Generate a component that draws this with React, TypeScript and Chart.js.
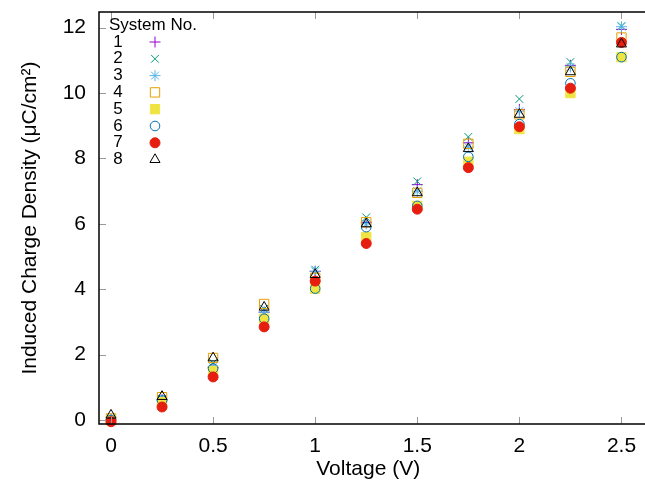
import React, { useEffect, useRef } from "react";
import { Chart, registerables } from "chart.js";
import { drawPoint } from "chart.js/helpers";

Chart.register(...registerables);

const voltages = [0, 0.25, 0.5, 0.75, 1.0, 1.25, 1.5, 1.75, 2.0, 2.25, 2.5];

const sys1 = [0.02, 0.62, 1.6, 3.3, 4.55, 6.05, 7.2, 8.48, 9.5, 10.85, 11.95];
const sys2 = [0.03, 0.65, 1.75, 3.4, 4.6, 6.2, 7.3, 8.66, 9.82, 10.95, 12.05];
const sys3 = [0.02, 0.6, 1.62, 3.3, 4.55, 6.0, 7.0, 8.35, 9.45, 10.8, 12.03];
const sys4 = [0.05, 0.7, 1.9, 3.55, 4.35, 6.05, 6.95, 8.45, 9.35, 10.65, 11.7];
const sys5 = [0.0, 0.55, 1.5, 3.1, 4.02, 5.6, 6.55, 7.9, 8.9, 10.0, 11.1];
const sys6 = [0.0, 0.6, 1.58, 3.1, 4.02, 5.9, 6.55, 8.05, 9.05, 10.3, 11.1];
const sys7 = [-0.05, 0.4, 1.32, 2.85, 4.25, 5.4, 6.45, 7.72, 8.97, 10.15, 11.55];
const sys8 = [0.15, 0.72, 1.9, 3.45, 4.45, 6.0, 6.95, 8.3, 9.35, 10.65, 11.5];

const seriesNames = ["1", "2", "3", "4", "5", "6", "7", "8"];
const seriesValues = [sys1, sys2, sys3, sys4, sys5, sys6, sys7, sys8];
const seriesColors = ["#9400d3", "#009e73", "#56b4e9", "#e69f00", "#f0e442", "#0072b2", "#e51e10", "#000000"];
const seriesStyles = ["cross", "crossRot", "star", "rect", "rect", "circle", "circle", "triangle"];
const seriesFilled = [false, false, false, false, true, false, true, false];
const seriesRadius = [5.5, 5.5, 5.5, 6.6, 6.6, 4.8, 5, 5.8];

const xTicks = [0, 0.5, 1, 1.5, 2, 2.5];
const yTicks = [0, 2, 4, 6, 8, 10, 12];

const legendTitle = "System No.";
const xTitle = "Voltage (V)";
const yTitle = "Induced Charge Density (\u03bcC/cm\u00b2)";

const FONT = "'Liberation Sans', Arial, sans-serif";

export default function App() {
  const ref = useRef<HTMLCanvasElement>(null);
  useEffect(() => {
    document.body.style.margin = "0";
    const canvas = ref.current!;
    const datasets = seriesValues.map((vals, i) => ({
      label: seriesNames[i],
      data: vals.map((v, j) => ({ x: voltages[j], y: v })),
      pointStyle: seriesStyles[i] as any,
      pointRadius: seriesRadius[i],
      pointBorderWidth: 1,
      borderColor: seriesColors[i],
      pointBorderColor: seriesColors[i],
      pointBackgroundColor: seriesFilled[i] ? seriesColors[i] : "rgba(0,0,0,0)",
      backgroundColor: seriesFilled[i] ? seriesColors[i] : "rgba(0,0,0,0)",
      showLine: false,
      clip: false,
      order: 7 - i,
    }));

    const framePlugin = {
      id: "frame",
      afterDraw(chart: any) {
        const ctx = chart.ctx;
        const a = chart.chartArea;
        const xs = chart.scales.x;
        const ys = chart.scales.y;
        const W = chart.width;
        ctx.save();
        ctx.strokeStyle = "#999";
        ctx.lineWidth = 1;
        const tl = 7;
        ctx.beginPath();
        xTicks.forEach((t) => {
          const px = Math.round(xs.getPixelForValue(t)) + 0.5;
          ctx.moveTo(px, a.bottom);
          ctx.lineTo(px, a.bottom - tl);
          ctx.moveTo(px, a.top);
          ctx.lineTo(px, a.top + tl);
        });
        yTicks.forEach((t) => {
          const py = Math.round(ys.getPixelForValue(t)) + 0.5;
          ctx.moveTo(a.left, py);
          ctx.lineTo(a.left + tl, py);
        });
        ctx.stroke();
        ctx.strokeStyle = "#000";
        ctx.lineWidth = 1.5;
        ctx.beginPath();
        ctx.moveTo(W + 2, a.top);
        ctx.lineTo(a.left, a.top);
        ctx.lineTo(a.left, a.bottom);
        ctx.lineTo(W + 2, a.bottom);
        ctx.stroke();

        ctx.fillStyle = "#000";
        ctx.font = `17px ${FONT}`;
        ctx.textBaseline = "middle";
        ctx.textAlign = "left";
        ctx.fillText(legendTitle, 109, 25);
        const rowH = 16.8;
        seriesNames.forEach((n, i) => {
          const y = 42 + i * rowH;
          ctx.fillStyle = "#000";
          ctx.textAlign = "center";
          ctx.fillText(n, 118, y);
          ctx.strokeStyle = seriesColors[i];
          ctx.fillStyle = seriesFilled[i] ? seriesColors[i] : "rgba(0,0,0,0)";
          ctx.lineWidth = 1;
          drawPoint(ctx, { pointStyle: seriesStyles[i], radius: seriesRadius[i], rotation: 0, borderWidth: 1 } as any, 155, y);
        });
        ctx.restore();
      },
    };

    const noPad = (s: any) => {
      s.paddingTop = 0;
      s.paddingBottom = 0;
      s.paddingLeft = 0;
      s.paddingRight = 0;
    };

    const chart = new Chart(canvas, {
      type: "scatter",
      data: { datasets: datasets as any },
      options: {
        animation: false,
        responsive: false,
        events: [],
        layout: { padding: { top: 12, right: 0, left: 0, bottom: 0 } },
        plugins: { legend: { display: false }, tooltip: { enabled: false } },
        scales: {
          x: {
            type: "linear",
            min: -0.0588,
            max: 2.578,
            afterBuildTicks: (s: any) => {
              s.ticks = xTicks.map((v) => ({ value: v }));
            },
            afterFit: (s: any) => {
              s.height = 66;
              noPad(s);
            },
            grid: { display: false, drawTicks: false },
            border: { display: false },
            ticks: {
              color: "#000",
              font: { family: FONT, size: 21 },
              padding: 10,
              maxRotation: 0,
              callback: (v: any) => String(v),
            },
            title: {
              display: true,
              text: xTitle,
              color: "#000",
              font: { family: FONT, size: 21 },
              padding: { top: 0, bottom: 8 },
            },
          },
          y: {
            type: "linear",
            min: -0.12,
            max: 12.48,
            afterBuildTicks: (s: any) => {
              s.ticks = yTicks.map((v) => ({ value: v }));
            },
            afterFit: (s: any) => {
              s.width = 99;
              noPad(s);
            },
            grid: { display: false, drawTicks: false },
            border: { display: false },
            ticks: {
              color: "#000",
              font: { family: FONT, size: 21 },
              padding: 13,
              callback: (v: any) => String(v),
            },
            title: {
              display: true,
              text: yTitle,
              color: "#000",
              font: { family: FONT, size: 21 },
              padding: { top: 18, bottom: 0 },
            },
          },
        },
      },
      plugins: [framePlugin],
    });
    return () => chart.destroy();
  }, []);
  return (
    <div style={{ width: 645, height: 490 }}>
      <canvas ref={ref} width={645} height={490} style={{ display: "block" }} />
    </div>
  );
}
